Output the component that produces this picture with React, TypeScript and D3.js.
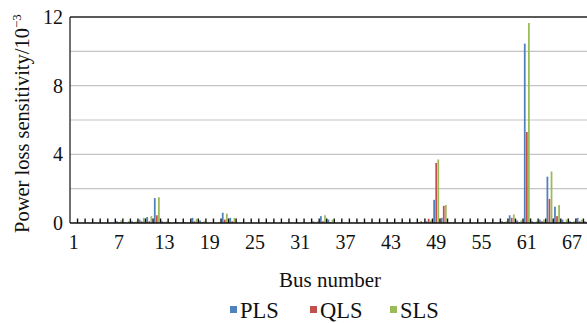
import * as d3 from 'd3';

// bus numbers of the 69-bus system
const buses = d3.range(1, 70);
const seriesNames = ['PLS', 'QLS', 'SLS'];
const seriesColors = ['#4f81bd', '#c0504d', '#9bbb59'];

// sensitivities, x10^-3
const pls = [
  0, 0.02, 0.02, 0.02, 0.02, 0.02, 0.1, 0.05, 0.1, 0.2,
  0.35, 1.45, 0.1, 0.05, 0.05, 0.05, 0.3, 0.15, 0.02, 0.02,
  0.6, 0.3, 0.02, 0.02, 0.02, 0.02, 0.02, 0.02, 0.02, 0.02,
  0.02, 0.02, 0.1, 0.4, 0.2, 0.02, 0.02, 0.02, 0.02, 0.02,
  0.02, 0.02, 0.02, 0.02, 0.02, 0.02, 0.05, 0.1, 1.35, 0.3,
  0.05, 0.02, 0.02, 0.02, 0.02, 0.02, 0.02, 0.1, 0.45, 0.15,
  10.45, 0.1, 0.2, 2.7, 0.95, 0.2, 0.1, 0.3, 0.1,
];
const qls = [
  0, 0.01, 0.01, 0.01, 0.01, 0.01, 0.05, 0.02, 0.05, 0.1,
  0.1, 0.45, 0.05, 0.02, 0.02, 0.02, 0.1, 0.05, 0.01, 0.01,
  0.2, 0.1, 0.01, 0.01, 0.01, 0.01, 0.01, 0.01, 0.01, 0.01,
  0.01, 0.01, 0.05, 0.1, 0.05, 0.01, 0.01, 0.01, 0.01, 0.01,
  0.01, 0.01, 0.01, 0.01, 0.01, 0.01, 0.1, 0.25, 3.5, 1.0,
  0.02, 0.01, 0.01, 0.01, 0.01, 0.01, 0.01, 0.05, 0.3, 0.05,
  5.3, 0.05, 0.1, 1.4, 0.4, 0.05, 0.05, 0.1, 0.05,
];
const sls = [
  0, 0.02, 0.02, 0.02, 0.02, 0.02, 0.15, 0.1, 0.1, 0.3,
  0.4, 1.5, 0.1, 0.05, 0.05, 0.05, 0.25, 0.1, 0.02, 0.02,
  0.55, 0.3, 0.02, 0.02, 0.02, 0.02, 0.02, 0.02, 0.02, 0.02,
  0.02, 0.02, 0.1, 0.45, 0.2, 0.02, 0.02, 0.02, 0.02, 0.02,
  0.02, 0.02, 0.02, 0.02, 0.02, 0.02, 0.05, 0.15, 3.7, 1.05,
  0.05, 0.02, 0.02, 0.02, 0.02, 0.02, 0.02, 0.1, 0.5, 0.15,
  11.65, 0.1, 0.2, 3.0, 1.05, 0.2, 0.1, 0.2, 0.1,
];
const seriesValues = [pls, qls, sls];

const xTickLabels = [1, 7, 13, 19, 25, 31, 37, 43, 49, 55, 61, 67];
const yTickLabels = [0, 4, 8, 12];
const gridValues = [2, 4, 6, 8, 10];

const W = 587;
const H = 323;
const left = 70;
const right = 591;
const top = 17;
const bottom = 223;
const serif = 'Liberation Serif';

export default function App() {
  const x = d3.scaleBand<number>().domain(buses).range([left, right]);
  const inner = d3
    .scaleBand<string>()
    .domain(seriesNames)
    .range([0, x.bandwidth()])
    .paddingInner(0.15)
    .paddingOuter(0.4);
  const y = d3.scaleLinear().domain([0, 12]).range([bottom, top]);

  const legendX = [230, 310, 390];
  const txt = { fontFamily: serif, fill: '#111' };

  return (
    <>
      <style>{`body{margin:0}`}</style>
      <svg width={W} height={H} style={{ display: 'block' }}>
        <rect width={W} height={H} fill="#fff" />
        {gridValues.map((v) => (
          <line key={v} x1={left} x2={right} y1={y(v)} y2={y(v)} stroke="#c4c4c4" strokeWidth={1.2} />
        ))}
        {seriesValues.map((vals, si) =>
          vals.map((v, i) => (
            <rect
              key={`${si}-${i}`}
              x={(x(buses[i]) ?? 0) + (inner(seriesNames[si]) ?? 0)}
              y={y(v)}
              width={inner.bandwidth()}
              height={bottom - y(v)}
              fill={seriesColors[si]}
            />
          ))
        )}
        {/* frame */}
        <line x1={left} x2={right} y1={top} y2={top} stroke="#222" strokeWidth={1.3} />
        <line x1={left} x2={left} y1={top} y2={bottom} stroke="#222" strokeWidth={1.3} />
        <line x1={left} x2={right} y1={bottom} y2={bottom} stroke="#111" strokeWidth={1.5} />
        {buses.map((b) => (
          <line
            key={b}
            x1={(x(b) ?? 0) + x.bandwidth()}
            x2={(x(b) ?? 0) + x.bandwidth()}
            y1={bottom}
            y2={bottom - 4.5}
            stroke="#111"
            strokeWidth={1.4}
          />
        ))}
        {xTickLabels.map((b) => (
          <text
            key={b}
            x={(x(b) ?? 0) + x.bandwidth() / 2}
            y={249}
            textAnchor="middle"
            fontSize={20}
            style={txt}
          >
            {b}
          </text>
        ))}
        {yTickLabels.map((v) => (
          <text key={v} x={63} y={y(v) + 7} textAnchor="end" fontSize={20} style={txt}>
            {v}
          </text>
        ))}
        <text x={330} y={287} textAnchor="middle" fontSize={21} style={txt}>
          Bus number
        </text>
        <text transform="translate(29,233) rotate(-90)" fontSize={20.5} style={txt}>
          Power loss sensitivity/10
          <tspan dy={-8} fontSize={13}>
            −3
          </tspan>
        </text>
        {seriesNames.map((s, i) => (
          <g key={s}>
            <rect x={legendX[i]} y={306} width={7} height={7} fill={seriesColors[i]} />
            <text x={legendX[i] + 10} y={317.5} fontSize={22.5} style={txt}>
              {s}
            </text>
          </g>
        ))}
      </svg>
    </>
  );
}
